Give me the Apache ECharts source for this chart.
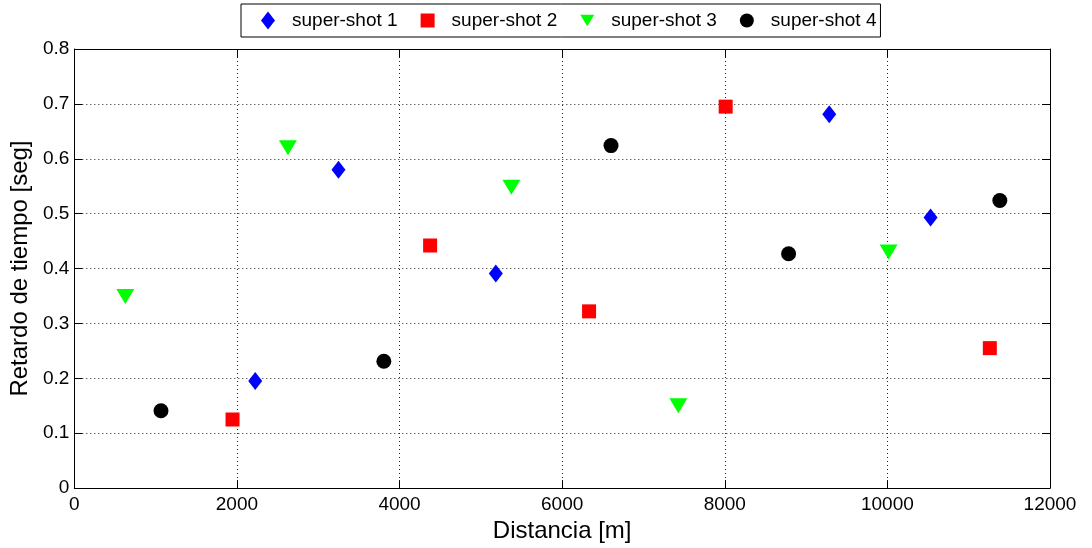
<!DOCTYPE html>
<html>
<head>
<meta charset="utf-8">
<script src="https://cdn.jsdelivr.net/npm/echarts@6/dist/echarts.min.js"></script>
<style>
html,body{margin:0;padding:0;background:#fff;}
#chart{width:1092px;height:548px;}
</style>
</head>
<body>
<div id="chart"></div>
<script>
// Data
const seriesNames = ['super-shot 1', 'super-shot 2', 'super-shot 3', 'super-shot 4'];
const s1x = [2225, 3249, 5184, 9285, 10531];
const s1y = [0.195, 0.580, 0.391, 0.681, 0.493];
const s2x = [1946, 4376, 6331, 8011, 11260];
const s2y = [0.125, 0.442, 0.322, 0.695, 0.255];
const s3x = [627, 2627, 5376, 7429, 10015];
const s3y = [0.349, 0.620, 0.548, 0.150, 0.430];
const s4x = [1066, 3807, 6601, 8785, 11383];
const s4y = [0.141, 0.231, 0.624, 0.427, 0.524];
const xTicks = [0, 2000, 4000, 6000, 8000, 10000, 12000];
const yTicks = [0, 0.1, 0.2, 0.3, 0.4, 0.5, 0.6, 0.7, 0.8];

const FONT = '"Liberation Sans", Arial, sans-serif';
const zip = (xs, ys) => xs.map((x, i) => [x, ys[i]]);

const triDown = 'path://M0,0 L18,0 L9,15 Z';
const sqPath = 'path://M0,0 L10,0 L10,10 L0,10 Z';
const diaPath = 'path://M7,0 L14,9 L7,18 L0,9 Z';

const chart = echarts.init(document.getElementById('chart'), null, {renderer: 'canvas'});

const baseAxisX = {
  type: 'value', min: xTicks[0], max: xTicks[xTicks.length - 1], interval: 2000,
  axisLine: {show: true, onZero: false, lineStyle: {color: '#000', width: 1}},
  axisTick: {show: true, inside: true, length: 8, lineStyle: {color: '#000'}},
};
const baseAxisY = {
  type: 'value', min: yTicks[0], max: yTicks[yTicks.length - 1], interval: 0.1,
  axisLine: {show: true, onZero: false, lineStyle: {color: '#000', width: 1}},
  axisTick: {show: true, inside: true, length: 8, lineStyle: {color: '#000'}},
};

chart.setOption({
  backgroundColor: '#fff',
  animation: false,
  textStyle: {fontFamily: FONT},
  grid: {left: 74, right: 42, top: 49, bottom: 57, containLabel: false},
  legend: {
    data: [
      {name: seriesNames[0], icon: diaPath},
      {name: seriesNames[1], icon: sqPath},
      {name: seriesNames[2], icon: triDown},
      {name: seriesNames[3], icon: 'circle'}
    ],
    left: 241, top: 4,
    orient: 'horizontal',
    itemWidth: 14, itemHeight: 18, itemGap: 23,
    padding: [7, 4, 7, 20],
    borderColor: '#000', borderWidth: 1,
    backgroundColor: '#fff',
    selectedMode: false,
    textStyle: {fontFamily: FONT, fontSize: 19, color: '#000', padding: [0, 0, 0, 12]}
  },
  xAxis: [
    Object.assign({}, baseAxisX, {
      position: 'bottom',
      name: 'Distancia [m]', nameLocation: 'middle', nameGap: 25,
      nameTextStyle: {fontFamily: FONT, fontSize: 24, color: '#000'},
      axisLabel: {show: true, margin: 7, fontFamily: FONT, fontSize: 19, color: '#000',
        formatter: v => String(v)},
      splitLine: {show: true, lineStyle: {color: '#222', type: [1, 3], width: 1}}
    }),
    Object.assign({}, baseAxisX, {
      position: 'top', axisLabel: {show: false}, splitLine: {show: false}
    })
  ],
  yAxis: [
    Object.assign({}, baseAxisY, {
      position: 'left',
      name: 'Retardo de tiempo [seg]', nameLocation: 'middle', nameGap: 42, nameRotate: 90,
      nameTextStyle: {fontFamily: FONT, fontSize: 24, color: '#000'},
      axisLabel: {show: true, margin: 5, fontFamily: FONT, fontSize: 19, color: '#000',
        formatter: v => (Math.round(v * 10) / 10).toString()},
      splitLine: {show: true, lineStyle: {color: '#222', type: [1, 3], width: 1}}
    }),
    Object.assign({}, baseAxisY, {
      position: 'right', axisLabel: {show: false}, splitLine: {show: false}
    })
  ],
  series: [
    {name: seriesNames[0], type: 'scatter', data: zip(s1x, s1y), symbol: 'diamond', symbolSize: [14, 18],
     itemStyle: {color: '#0000FF', opacity: 1}},
    {name: seriesNames[1], type: 'scatter', data: zip(s2x, s2y), symbol: 'rect', symbolSize: 14,
     itemStyle: {color: '#FF0000', opacity: 1}},
    {name: seriesNames[2], type: 'scatter', data: zip(s3x, s3y), symbol: triDown, symbolSize: [18, 15],
     itemStyle: {color: '#00FF00', opacity: 1}},
    {name: seriesNames[3], type: 'scatter', data: zip(s4x, s4y), symbol: 'circle', symbolSize: 15,
     itemStyle: {color: '#000000', opacity: 1}}
  ]
});
</script>
</body>
</html>
